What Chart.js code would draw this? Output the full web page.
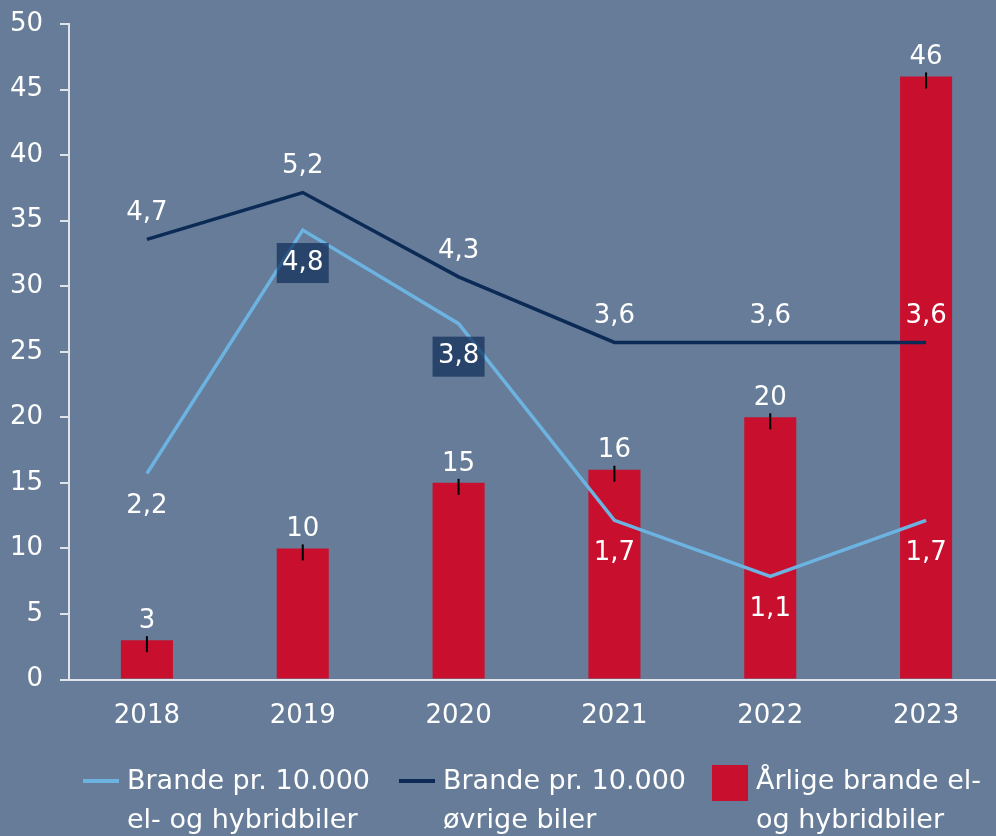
<!DOCTYPE html>
<html>
<head>
<meta charset="utf-8">
<script src="https://cdn.jsdelivr.net/npm/chart.js@4.4.1/dist/chart.umd.min.js"></script>
<style>
  html, body { margin: 0; padding: 0; background: #667c98; overflow: hidden; }
  #chartBrande { display: block; }
</style>
</head>
<body>
<canvas id="chartBrande" width="1010" height="836"></canvas>
<script>
// data
const years = ['2018', '2019', '2020', '2021', '2022', '2023'];
const aarligeBrande = [3, 10, 15, 16, 20, 46];            // bars, left axis
const brandeElHybrid = [2.2, 4.8, 3.8, 1.7, 1.1, 1.7];    // per 10.000, hidden right axis
const brandeOevrige = [4.7, 5.2, 4.3, 3.6, 3.6, 3.6];     // per 10.000, hidden right axis
const yMax = 50;
const yStep = 5;
const y1Max = 7;
const legendTekster = [
  ['Brande pr. 10.000', 'el- og hybridbiler'],
  ['Brande pr. 10.000', 'øvrige biler'],
  ['Årlige brande el-', 'og hybridbiler']
];

const cRod = '#c8102e';
const cLys = '#6cb3e2';
const cMork = '#0b2a55';
const cAkse = '#dfe4ea';
const fontFam = '"DejaVu Sans", Verdana, sans-serif';

const fmt = v => String(v).replace('.', ',');

// value labels + small black marks on bars
const vaerdiPlugin = {
  id: 'vaerdier',
  afterDatasetsDraw(chart) {
    const ctx = chart.ctx;
    ctx.save();
    ctx.font = '26px ' + fontFam;
    ctx.textAlign = 'center';
    ctx.textBaseline = 'middle';
    chart.data.datasets.forEach((ds, i) => {
      const meta = chart.getDatasetMeta(i);
      meta.data.forEach((el, j) => {
        const txt = fmt(ds.data[j]);
        let y;
        if (ds.type === 'bar') {
          ctx.strokeStyle = '#000';
          ctx.lineWidth = 2;
          ctx.beginPath();
          ctx.moveTo(el.x, el.y - 4);
          ctx.lineTo(el.x, el.y + 12);
          ctx.stroke();
          y = el.y - 19;
        } else if (ds.labelOver) {
          y = el.y - 26;
        } else {
          y = el.y + 33;
        }
        if (ds.boxed && ds.boxed[j]) {
          ctx.fillStyle = 'rgba(11, 42, 85, 0.68)';
          ctx.fillRect(el.x - 26, y - 20, 52, 40);
        }
        ctx.fillStyle = '#ffffff';
        ctx.fillText(txt, el.x, y);
      });
    });
    ctx.restore();
  }
};

// legend with two-line labels
const legendPlugin = {
  id: 'legende',
  afterDraw(chart) {
    const ctx = chart.ctx;
    const ds = chart.data.datasets;
    const items = [
      { x: 83, ds: ds[0] },
      { x: 399, ds: ds[1] },
      { x: 712, ds: ds[2] }
    ];
    ctx.save();
    ctx.font = '27px ' + fontFam;
    ctx.textAlign = 'left';
    ctx.textBaseline = 'alphabetic';
    items.forEach((it, k) => {
      if (it.ds.type === 'bar') {
        ctx.fillStyle = it.ds.backgroundColor;
        ctx.fillRect(it.x, 765, 36, 36);
      } else {
        ctx.strokeStyle = it.ds.borderColor;
        ctx.lineWidth = 4;
        ctx.beginPath();
        ctx.moveTo(it.x, 781);
        ctx.lineTo(it.x + 36, 781);
        ctx.stroke();
      }
      ctx.fillStyle = '#ffffff';
      ctx.fillText(legendTekster[k][0], it.x + 44, 789);
      ctx.fillText(legendTekster[k][1], it.x + 44, 828);
    });
    ctx.restore();
  }
};

const ctxB = document.getElementById('chartBrande');

new Chart(ctxB, {
  data: {
    labels: years,
    datasets: [
      {
        type: 'line',
        data: brandeElHybrid,
        yAxisID: 'y1',
        borderColor: cLys,
        borderWidth: 3.5,
        pointRadius: 0,
        tension: 0,
        labelOver: false,
        boxed: [false, true, true, false, false, false],
        order: 0
      },
      {
        type: 'line',
        data: brandeOevrige,
        yAxisID: 'y1',
        borderColor: cMork,
        borderWidth: 3.5,
        pointRadius: 0,
        tension: 0,
        labelOver: true,
        order: 1
      },
      {
        type: 'bar',
        data: aarligeBrande,
        yAxisID: 'y',
        backgroundColor: cRod,
        borderWidth: 0,
        categoryPercentage: 1,
        barPercentage: 0.334,
        order: 2
      }
    ]
  },
  options: {
    responsive: false,
    animation: false,
    layout: { padding: { top: 24, right: 6, left: 0, bottom: 0 } },
    plugins: {
      legend: { display: false },
      tooltip: { enabled: false }
    },
    scales: {
      x: {
        offset: true,
        grid: { display: false },
        border: { display: true, color: cAkse, width: 2 },
        ticks: { color: '#ffffff', font: { family: fontFam, size: 26 }, padding: 13 },
        afterFit(s) { s.height = 156.5; s.paddingLeft = 0; s.paddingRight = 0; }
      },
      y: {
        position: 'left',
        min: 0,
        max: yMax,
        ticks: { stepSize: yStep, color: '#ffffff', font: { family: fontFam, size: 26 }, padding: 17 },
        grid: { display: true, drawOnChartArea: false, drawTicks: true, tickLength: 9, color: cAkse, lineWidth: 2 },
        border: { display: true, color: cAkse, width: 2 },
        afterFit(s) { s.width = 69; s.paddingTop = 0; s.paddingBottom = 0; }
      },
      y1: {
        position: 'right',
        min: 0,
        max: y1Max,
        display: false
      }
    }
  },
  plugins: [vaerdiPlugin, legendPlugin]
});
</script>
</body>
</html>
